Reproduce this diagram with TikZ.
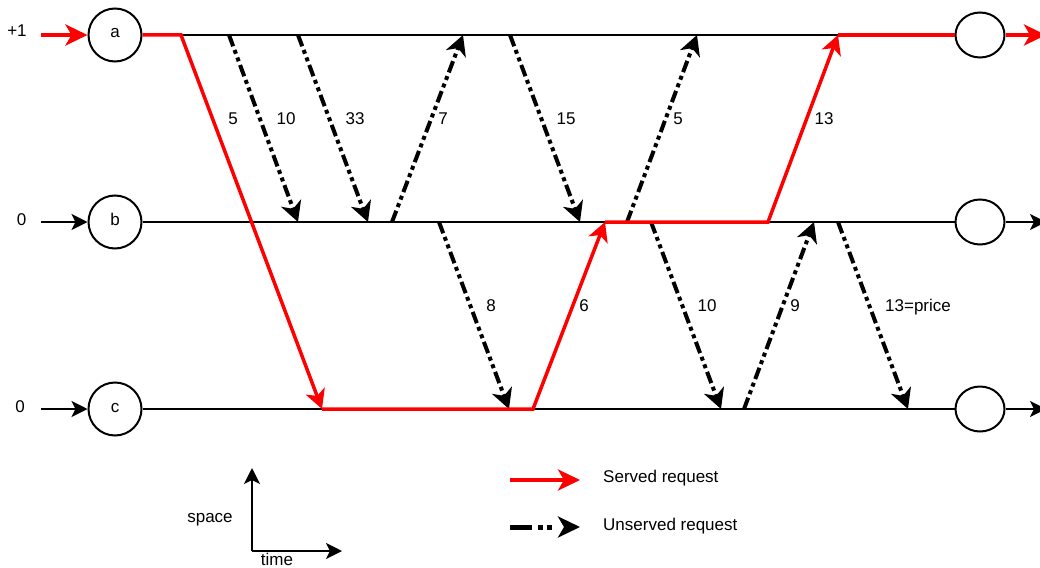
\documentclass[tikz,border=0pt]{standalone}
\usepackage{fontspec}
\setmainfont{Liberation Sans}
\usetikzlibrary{arrows.meta,shapes.geometric}
\tikzset{
  base/.style={line width=2pt, black},
  inarrow/.style={base, -{Stealth[length=16pt,width=16pt,inset=4pt]}},
  servedline/.style={line width=3.5pt, red, line join=miter},
  servedarrow/.style={servedline, -{Stealth[length=19pt,width=20pt,inset=5pt]}},
  servedin/.style={line width=4pt, red, -{Stealth[length=22pt,width=21pt,inset=6pt]}},
  unserved/.style={line width=4pt, black, dash pattern=on 12pt off 4pt on 4pt off 4pt on 4pt off 4pt, -{Stealth[length=20pt,width=21pt,inset=6pt]}},
  legunserved/.style={line width=5pt, black, dash pattern=on 22pt off 6pt on 5pt off 4pt on 5pt off 60pt, -{Stealth[length=22pt,width=21pt,inset=6pt]}},
  lnode/.style={circle, draw, line width=2pt, minimum size=53pt, inner sep=0pt, text height=6pt, text depth=0pt},
  rnode/.style={ellipse, draw, line width=2pt, minimum width=49pt, minimum height=45pt, inner sep=0pt},
  lbl/.style={inner sep=0pt, anchor=base},
  leglbl/.style={inner sep=0pt, anchor=base west}
}
\begin{document}
\begin{tikzpicture}[x=1pt, y=-1pt, font=\fontsize{17pt}{20pt}\selectfont]
\useasboundingbox (0,0) rectangle (1040,567);
\begin{scope}
\clip (0,0) rectangle (1040,567);
% nodes
\node[lnode] (a) at (115,35) {a};
\node[lnode] (b) at (115,222) {b};
\node[lnode] (c) at (115,409) {c};
\node[rnode] (a2) at (980,35) {};
\node[rnode] (b2) at (980,222) {};
\node[rnode] (c2) at (980,409) {};
% coordinates
\coordinate (ain) at (41,35);
\coordinate (bin) at (41,222);
\coordinate (cin) at (41,409);
\coordinate (aout) at (1046,35);
\coordinate (bout) at (1046,222);
\coordinate (cout) at (1046,409);
\coordinate (r1) at (181,35);
\coordinate (r2) at (322,409);
\coordinate (r3) at (533,409);
\coordinate (r4) at (605,222);
\coordinate (r5) at (768,222);
\coordinate (r6) at (838,35);
\coordinate (u1s) at (229,35);  \coordinate (u1e) at (298,222);
\coordinate (u2s) at (298,35);  \coordinate (u2e) at (368,222);
\coordinate (u3s) at (392,222); \coordinate (u3e) at (463,35);
\coordinate (u4s) at (510,35);  \coordinate (u4e) at (580,222);
\coordinate (u5s) at (627,222); \coordinate (u5e) at (697,35);
\coordinate (u6s) at (439,222); \coordinate (u6e) at (509,409);
\coordinate (u7s) at (651,222); \coordinate (u7e) at (721,409);
\coordinate (u8s) at (744,409); \coordinate (u8e) at (814,222);
\coordinate (u9s) at (838,222); \coordinate (u9e) at (908,409);
% base lines
\draw[base] (a.east) -- (a2.west);
\draw[base] (b.east) -- (b2.west);
\draw[base] (c.east) -- (c2.west);
\draw[inarrow] (bin) -- (b.west);
\draw[inarrow] (cin) -- (c.west);
\draw[inarrow] (b2.east) -- (bout);
\draw[inarrow] (c2.east) -- (cout);
% input labels
\node[lbl] (p1) at (17,36.7) {+1};
\node[lbl] (z1) at (21.7,225) {0};
\node[lbl] (z2) at (20,412) {0};
% unserved requests
\draw[unserved] (u1s) -- (u1e);
\draw[unserved] (u2s) -- (u2e);
\draw[unserved] (u3s) -- (u3e);
\draw[unserved] (u4s) -- (u4e);
\draw[unserved] (u5s) -- (u5e);
\draw[unserved] (u6s) -- (u6e);
\draw[unserved] (u7s) -- (u7e);
\draw[unserved] (u8s) -- (u8e);
\draw[unserved] (u9s) -- (u9e);
% served path
\draw[servedin] (ain) -- (a.west);
\draw[servedarrow] (a.east) -- (r1) -- (r2);
\draw[servedarrow] (r2) -- (r3) -- (r4);
\draw[servedarrow] (r4) -- (r5) -- (r6);
\draw[servedline] (r6) -- (a2.west);
\draw[servedin] (a2.east) -- (aout);
% labels
\node[lbl] (t1) at (233,124.3) {5};
\node[lbl] (t2) at (286,124.3) {10};
\node[lbl] (t3) at (355,124.3) {33};
\node[lbl] (t4) at (443,124.3) {7};
\node[lbl] (t5) at (566,124.3) {15};
\node[lbl] (t6) at (678,124.3) {5};
\node[lbl] (t7) at (824,124.3) {13};
\node[lbl] (t8) at (491,311.7) {8};
\node[lbl] (t9) at (584,311.7) {6};
\node[lbl] (t10) at (707,311.7) {10};
\node[lbl] (t11) at (795,311.7) {9};
\node[lbl] (t12) at (918,311.7) {13=price};
% axes
\coordinate (o) at (252,551);
\coordinate (oy) at (252,468);
\coordinate (ox) at (342,551);
\draw[inarrow] (o) -- (oy);
\draw[inarrow] (o) -- (ox);
\node[lbl] (sp) at (210,522) {space};
\node[lbl] (tm) at (277,565) {time};
% legend
\coordinate (l1s) at (510,480); \coordinate (l1e) at (580,480);
\coordinate (l2s) at (510,527); \coordinate (l2e) at (580,527);
\draw[servedin] (l1s) -- (l1e);
\draw[legunserved] (l2s) -- (l2e);
\node[leglbl] (lg1) at (603,482) {Served request};
\node[leglbl] (lg2) at (603,530) {Unserved request};
\end{scope}
\end{tikzpicture}
\end{document}
